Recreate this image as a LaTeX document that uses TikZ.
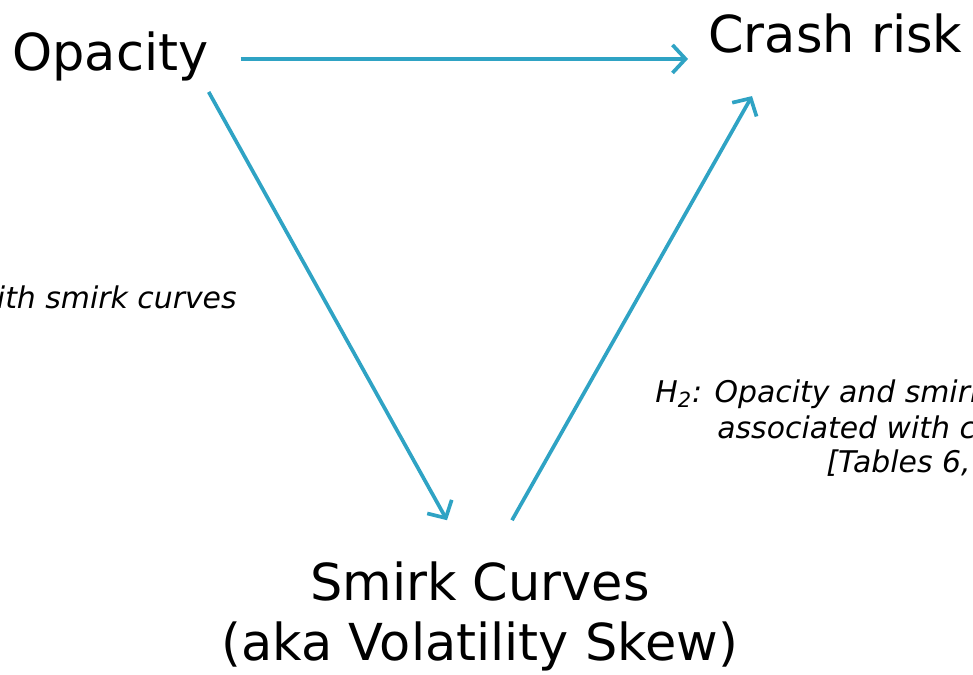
\documentclass[tikz,border=0pt]{standalone}
\usepackage{fontspec}
\setmainfont{DejaVu Sans}
\usepackage{xcolor}
\usetikzlibrary{arrows.meta,calc}
\definecolor{linkblue}{RGB}{47,163,196}

\begin{document}
\begin{tikzpicture}[
  x=0.02cm, y=-0.02cm,
  concept/.style={font=\fontsize{29}{34}\selectfont, inner sep=0pt, align=center},
  note/.style={font=\fontsize{17}{20}\selectfont\itshape, inner sep=0pt},
  link/.style={-{Straight Barb[length=2.6mm,width=5.6mm]}, line width=2.1pt, linkblue},
]
\useasboundingbox (0,0) rectangle (973,674);
\clip (0,0) rectangle (973,674);

% Concepts
\node[concept, anchor=base west] (opacity) at (12,70) {Opacity};
\node[concept, anchor=base west] (crash) at (708,52) {Crash risk};
\node[concept, anchor=base] (smirk) at (480,660) {Smirk Curves\\(aka Volatility Skew)};

% Links
\draw[link] ([shift={(32,3)}]opacity.east) -- ($(opacity.east -| crash.west)+(-20,3)$);
\draw[link] ([shift={(0,11)}]opacity.south east) -- ([shift={(-33,-41)}]smirk.north);
\draw[link] ([shift={(32,-41)}]smirk.north) -- ([shift={(44,43)}]crash.south west);

% Hypotheses
\node[note, anchor=base east] (hone) at (237,308) {with smirk curves};
\node[note, anchor=base west] (htwoa) at (655,402) {H\textsubscript{2}: Opacity and smirk curves are};
\node[note, anchor=base west] (htwob) at (717,438) {associated with crash risk};
\node[note, anchor=base west] (htwoc) at (826,472) {[Tables 6, 7]};

\end{tikzpicture}
\end{document}
